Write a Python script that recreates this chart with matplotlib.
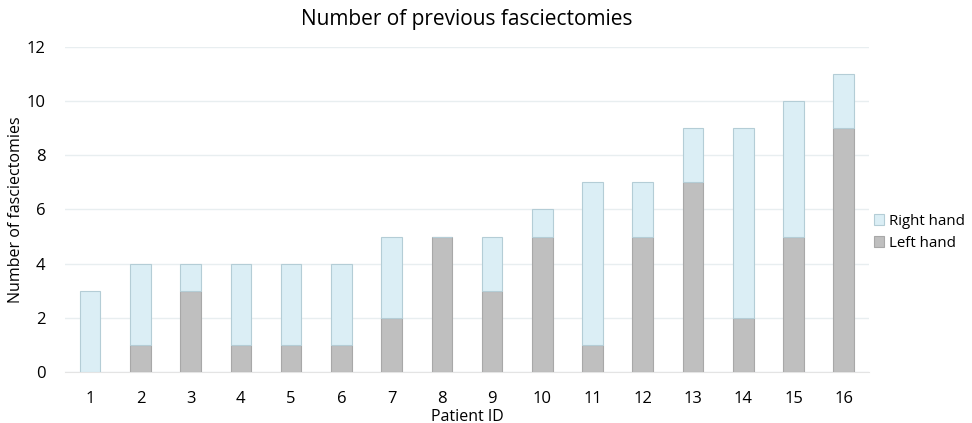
import numpy as np
import matplotlib.pyplot as plt

plt.rcParams['font.family'] = ['Open Sans', 'DejaVu Sans']

patients = [str(i) for i in range(1, 17)]
left_hand = [0, 1, 3, 1, 1, 1, 2, 5, 3, 5, 1, 5, 7, 2, 5, 9]
right_hand = [3, 3, 1, 3, 3, 3, 3, 0, 2, 1, 6, 2, 2, 7, 5, 2]

x = np.arange(1, len(patients) + 1)

fig = plt.figure(figsize=(9.72, 4.23), dpi=100)
ax = fig.add_axes([0.0669, 0.1206, 0.827, 0.7684])

ax.bar(x, left_hand, width=0.41, color='#bfbfbf', edgecolor='#a8a8a8', linewidth=0.8, label='Left hand', zorder=3)
ax.bar(x, right_hand, width=0.41, bottom=left_hand, color='#dbeef5', edgecolor='#b4cdd6', linewidth=0.8, label='Right hand', zorder=3)

ax.set_xlim(0.5, 16.5)
ax.set_ylim(0, 12)
ax.set_yticks(range(0, 13, 2))
ax.set_xticks(x)
ax.set_xticklabels(patients)
ax.grid(axis='y', color='#e8eef0', linewidth=1, zorder=0)
for s in ['top', 'right', 'left']:
    ax.spines[s].set_visible(False)
ax.spines['bottom'].set_color('#e4e4e4')
ax.tick_params(length=0, labelsize=12, pad=14)
ax.tick_params(axis='y', pad=14)

ax.set_title('Number of previous fasciectomies', fontsize=15, pad=16)
ax.set_ylabel('Number of fasciectomies', fontsize=11.5, labelpad=2)
ax.set_xlabel('Patient ID', fontsize=11.5, labelpad=1)

handles, labels = ax.get_legend_handles_labels()
ax.legend(handles[::-1], labels[::-1], loc='center left', bbox_to_anchor=(1.006, 0.43),
          frameon=False, fontsize=10.8, handlelength=0.7, handleheight=0.8,
          handletextpad=0.3, labelspacing=0.45, borderaxespad=0, borderpad=0)

fig.savefig('out.png', dpi=100)
